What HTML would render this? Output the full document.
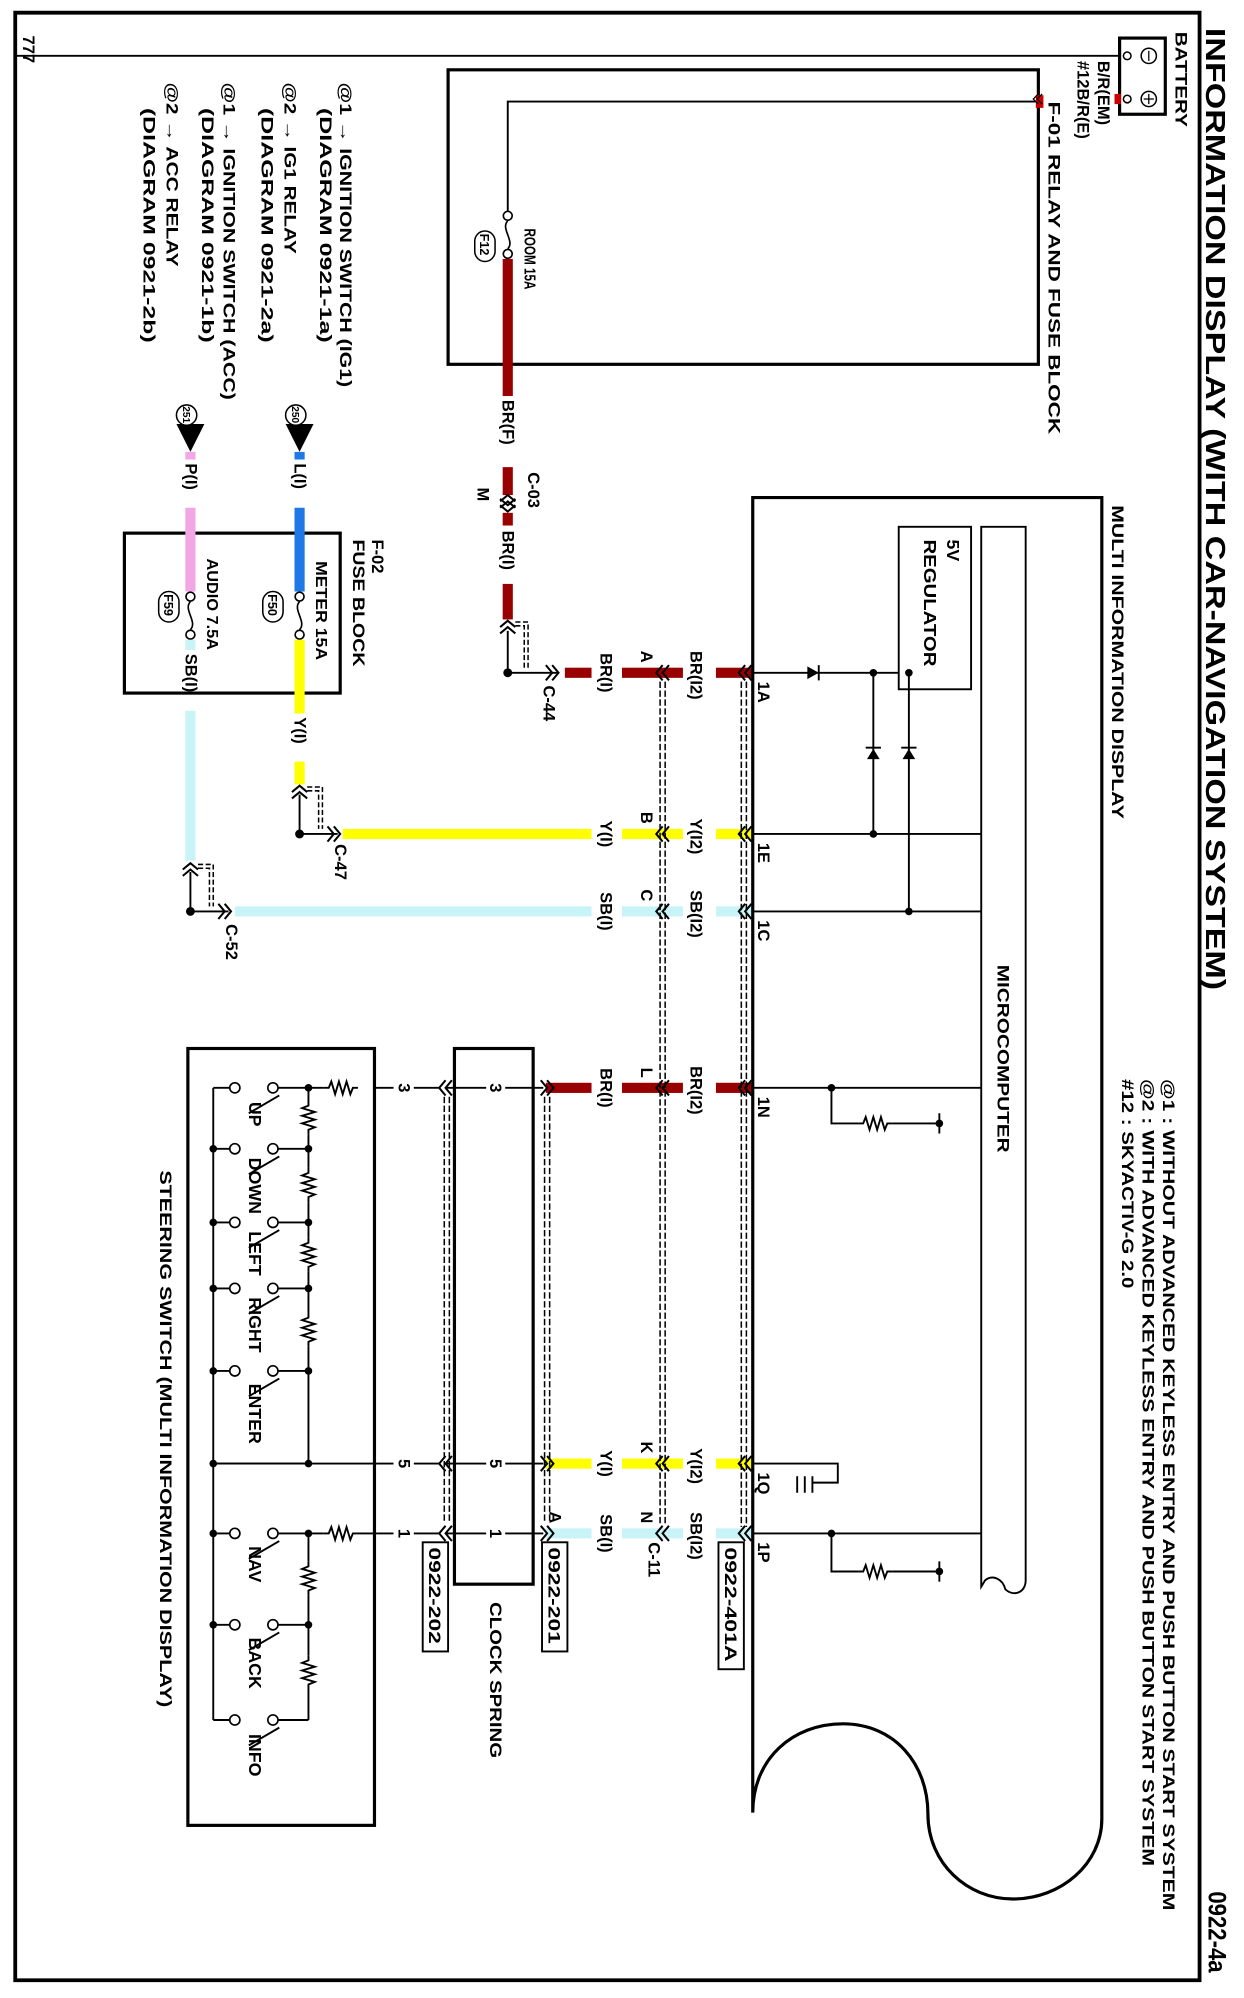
<!DOCTYPE html>
<html><head><meta charset="utf-8"><style>
html,body{margin:0;padding:0;background:#fff}
svg{display:block}
text{font-family:"Liberation Sans",Arial,sans-serif;font-weight:bold;fill:#000}
</style></head><body>
<svg width="1244" height="1998" viewBox="0 0 980 1574" preserveAspectRatio="none" xmlns="http://www.w3.org/2000/svg">
<defs>
<g id="cl"><path d="M5,-6 L0,0 L5,6 M10,-6 L5,0 L10,6" fill="none" stroke="#000" stroke-width="1.6"/></g>
<g id="cu"><path d="M-6,5 L0,0 L6,5 M-6,10 L0,5 L6,10" fill="none" stroke="#000" stroke-width="1.6"/></g>
<g id="res"><path d="M0,0 L4,0 L6,-5 L9,5 L12,-5 L15,5 L18,-5 L21,5 L23,0 L27,0" fill="none" stroke="#000" stroke-width="1.5"/></g>
<g id="resv"><path d="M0,0 L0,4 L-5,6 L5,9 L-5,12 L5,15 L-5,18 L5,21 L0,23 L0,27" fill="none" stroke="#000" stroke-width="1.5"/></g>
</defs>
<rect x="0" y="0" width="980" height="1574" fill="#fff"/>
<path d="M12,10 H945 V1560 H12 Z" fill="none" stroke="#000" stroke-width="3"/>
<text transform="translate(950,22) rotate(90)" font-size="22" textLength="758" lengthAdjust="spacingAndGlyphs">INFORMATION DISPLAY (WITH CAR-NAVIGATION SYSTEM)</text>
<text transform="translate(952,1490) rotate(90)" font-size="20" font-weight="normal" textLength="64" lengthAdjust="spacingAndGlyphs">0922-4a</text>
<text transform="translate(18,28) rotate(90)" font-size="13">777</text>

<line x1="12" y1="44" x2="886" y2="44" stroke="#000" stroke-width="1.5"/>
<rect x="882" y="30" width="36" height="60" fill="#fff" stroke="#000" stroke-width="2.5"/>
<circle cx="888" cy="44" r="3" fill="#fff" stroke="#000" stroke-width="1.2"/>
<circle cx="888" cy="78" r="3" fill="#fff" stroke="#000" stroke-width="1.2"/>
<circle cx="905" cy="44" r="6" fill="#fff" stroke="#000" stroke-width="1.2"/><line x1="905" y1="40" x2="905" y2="48" stroke="#000"/>
<circle cx="905" cy="78" r="6" fill="#fff" stroke="#000" stroke-width="1.2"/><line x1="905" y1="74" x2="905" y2="82" stroke="#000"/><line x1="901" y1="78" x2="909" y2="78" stroke="#000"/>
<text transform="translate(926,25) rotate(90)" font-size="13" textLength="75" lengthAdjust="spacingAndGlyphs">BATTERY</text>
<rect x="878" y="74" width="5" height="8" fill="#c00"/>
<text transform="translate(865,48) rotate(90)" font-size="13">B/R(EM)</text>
<text transform="translate(849,48) rotate(90)" font-size="13">#12B/R(E)</text>
<text transform="translate(826,80) rotate(90)" font-size="13" textLength="262" lengthAdjust="spacingAndGlyphs">F-01  RELAY AND FUSE BLOCK</text>

<rect x="353" y="55" width="465" height="232" fill="none" stroke="#000" stroke-width="2.5"/>
<rect x="816" y="75" width="6" height="10" fill="#c00"/>
<path d="M818,74 L814,78 L818,82 M821,74 L817,78 L821,82" stroke="#000" fill="none" stroke-width="1"/>
<path d="M816,80 H400 V166" fill="none" stroke="#000" stroke-width="1.5"/>
<circle cx="400" cy="170" r="3.5" fill="#fff" stroke="#000" stroke-width="1.3"/>
<path d="M400,174 C394,180 406,190 400,196" fill="none" stroke="#000" stroke-width="1.3"/>
<circle cx="400" cy="200" r="3.5" fill="#fff" stroke="#000" stroke-width="1.3"/>
<text transform="translate(413,180) rotate(90)" font-size="12" textLength="48" lengthAdjust="spacingAndGlyphs">ROOM 15A</text>
<rect x="374" y="182" width="16" height="24" rx="8" fill="#fff" stroke="#000" stroke-width="1.2"/>
<text transform="translate(378,184) rotate(90)" font-size="10" font-weight="normal">F12</text>
<rect x="396" y="204" width="8" height="108" fill="#990000"/>
<text transform="translate(396,315) rotate(90)" font-size="13">BR(F)</text>
<rect x="396" y="368" width="8" height="22" fill="#990000"/>
<use href="#cu" x="400" y="390"/>
<use href="#cu" x="400" y="393" transform="rotate(180,400,398)"/>
<text transform="translate(416,372) rotate(90)" font-size="13">C-03</text>
<text transform="translate(376,384) rotate(90)" font-size="13">M</text>
<rect x="396" y="404" width="8" height="10" fill="#990000"/>
<text transform="translate(396,418) rotate(90)" font-size="13">BR(I)</text>
<rect x="396" y="460" width="8" height="28" fill="#990000"/>
<use href="#cu" x="400" y="489"/>
<path d="M406,490 H416 V526 M406,493 H413 V526" fill="none" stroke="#000" stroke-width="1.2" stroke-dasharray="4,2"/>
<path d="M400,497 V530 H440" fill="none" stroke="#000" stroke-width="1.5"/>
<circle cx="400" cy="530" r="3.5" fill="#000"/>
<use href="#cl" x="-440" y="530" transform="scale(-1,1)"/>
<text transform="translate(428,540) rotate(90)" font-size="13">C-44</text>

<rect x="98" y="420" width="170" height="126" fill="none" stroke="#000" stroke-width="2.5"/>
<text transform="translate(293,425) rotate(90)" font-size="13">F-02</text>
<text transform="translate(278,425) rotate(90)" font-size="13" textLength="100" lengthAdjust="spacingAndGlyphs">FUSE BLOCK</text>
<text transform="translate(268,65) rotate(90)" font-size="13" textLength="240" lengthAdjust="spacingAndGlyphs">@1 → IGNITION SWITCH (IG1)</text>
<text transform="translate(252,85) rotate(90)" font-size="13" textLength="185" lengthAdjust="spacingAndGlyphs">(DIAGRAM  0921-1a)</text>
<text transform="translate(224,65) rotate(90)" font-size="13" textLength="135" lengthAdjust="spacingAndGlyphs">@2 → IG1 RELAY</text>
<text transform="translate(206,85) rotate(90)" font-size="13" textLength="185" lengthAdjust="spacingAndGlyphs">(DIAGRAM  0921-2a)</text>
<text transform="translate(176,65) rotate(90)" font-size="13" textLength="250" lengthAdjust="spacingAndGlyphs">@1 → IGNITION SWITCH (ACC)</text>
<text transform="translate(159,85) rotate(90)" font-size="13" textLength="185" lengthAdjust="spacingAndGlyphs">(DIAGRAM  0921-1b)</text>
<text transform="translate(131,65) rotate(90)" font-size="13" textLength="145" lengthAdjust="spacingAndGlyphs">@2 → ACC RELAY</text>
<text transform="translate(113,85) rotate(90)" font-size="13" textLength="185" lengthAdjust="spacingAndGlyphs">(DIAGRAM  0921-2b)</text>

<polygon points="225,334 247,334 236,356" fill="#000"/>
<circle cx="233" cy="327" r="8" fill="#fff" stroke="#000" stroke-width="1.2"/>
<text transform="translate(230,320) rotate(90)" font-size="8">250</text>
<polygon points="139,334 161,334 150,356" fill="#000"/>
<circle cx="147" cy="327" r="8" fill="#fff" stroke="#000" stroke-width="1.2"/>
<text transform="translate(144,320) rotate(90)" font-size="8">251</text>
<rect x="232" y="356" width="8" height="6" fill="#1e78e6"/>
<text transform="translate(232,365) rotate(90)" font-size="13">L(I)</text>
<rect x="232" y="400" width="8" height="66" fill="#1e78e6"/>
<circle cx="236" cy="470" r="3.5" fill="#fff" stroke="#000" stroke-width="1.3"/>
<path d="M236,474 C230,480 242,490 236,496" fill="none" stroke="#000" stroke-width="1.3"/>
<circle cx="236" cy="500" r="3.5" fill="#fff" stroke="#000" stroke-width="1.3"/>
<text transform="translate(249,442) rotate(90)" font-size="12" textLength="78" lengthAdjust="spacingAndGlyphs">METER 15A</text>
<rect x="207" y="466" width="16" height="24" rx="8" fill="#fff" stroke="#000" stroke-width="1.2"/>
<text transform="translate(211,468) rotate(90)" font-size="10" font-weight="normal">F50</text>
<rect x="232" y="504" width="8" height="58" fill="#ffff00"/>
<text transform="translate(232,565) rotate(90)" font-size="13">Y(I)</text>
<rect x="232" y="600" width="8" height="18" fill="#ffff00"/>
<use href="#cu" x="236" y="619"/>
<path d="M242,620 H254 V653 M242,623 H251 V653" fill="none" stroke="#000" stroke-width="1.2" stroke-dasharray="4,2"/>
<path d="M236,626 V657 H266" fill="none" stroke="#000" stroke-width="1.5"/>
<circle cx="236" cy="657" r="3.5" fill="#000"/>
<use href="#cl" x="-268" y="657" transform="scale(-1,1)"/>
<text transform="translate(264,665) rotate(90)" font-size="13">C-47</text>
<rect x="146" y="356" width="8" height="6" fill="#f2a6e6"/>
<text transform="translate(146,365) rotate(90)" font-size="13">P(I)</text>
<rect x="146" y="400" width="8" height="66" fill="#f2a6e6"/>
<circle cx="150" cy="470" r="3.5" fill="#fff" stroke="#000" stroke-width="1.3"/>
<path d="M150,474 C144,480 156,490 150,496" fill="none" stroke="#000" stroke-width="1.3"/>
<circle cx="150" cy="500" r="3.5" fill="#fff" stroke="#000" stroke-width="1.3"/>
<text transform="translate(163,440) rotate(90)" font-size="12" textLength="72" lengthAdjust="spacingAndGlyphs">AUDIO 7.5A</text>
<rect x="125" y="466" width="16" height="24" rx="8" fill="#fff" stroke="#000" stroke-width="1.2"/>
<text transform="translate(129,468) rotate(90)" font-size="10" font-weight="normal">F59</text>
<rect x="146" y="504" width="8" height="8" fill="#c8f4f8"/>
<text transform="translate(146,515) rotate(90)" font-size="13">SB(I)</text>
<rect x="146" y="560" width="8" height="118" fill="#c8f4f8"/>
<use href="#cu" x="150" y="680"/>
<path d="M156,681 H168 V714 M156,684 H165 V714" fill="none" stroke="#000" stroke-width="1.2" stroke-dasharray="4,2"/>
<path d="M150,687 V718 H180" fill="none" stroke="#000" stroke-width="1.5"/>
<circle cx="150" cy="718" r="3.5" fill="#000"/>
<use href="#cl" x="-182" y="718" transform="scale(-1,1)"/>
<text transform="translate(178,728) rotate(90)" font-size="13">C-52</text>

<g>
<rect x="445" y="526" width="21" height="8" fill="#990000"/><rect x="490" y="526" width="48" height="8" fill="#990000"/><rect x="564" y="526" width="28" height="8" fill="#990000"/>
<rect x="270" y="653" width="196" height="8" fill="#ffff00"/><rect x="490" y="653" width="48" height="8" fill="#ffff00"/><rect x="564" y="653" width="28" height="8" fill="#ffff00"/>
<rect x="185" y="714" width="281" height="8" fill="#c8f4f8"/><rect x="490" y="714" width="48" height="8" fill="#c8f4f8"/><rect x="564" y="714" width="28" height="8" fill="#c8f4f8"/>
<rect x="430" y="853" width="36" height="8" fill="#990000"/><rect x="490" y="853" width="48" height="8" fill="#990000"/><rect x="564" y="853" width="28" height="8" fill="#990000"/>
<rect x="430" y="1149" width="36" height="8" fill="#ffff00"/><rect x="490" y="1149" width="48" height="8" fill="#ffff00"/><rect x="564" y="1149" width="28" height="8" fill="#ffff00"/>
<rect x="430" y="1204" width="36" height="8" fill="#c8f4f8"/><rect x="490" y="1204" width="48" height="8" fill="#c8f4f8"/><rect x="564" y="1204" width="28" height="8" fill="#c8f4f8"/>
</g>
<use href="#cl" x="517" y="530"/><use href="#cl" x="582" y="530"/>
<use href="#cl" x="517" y="657"/><use href="#cl" x="582" y="657"/>
<use href="#cl" x="517" y="718"/><use href="#cl" x="582" y="718"/>
<use href="#cl" x="517" y="857"/><use href="#cl" x="582" y="857"/>
<use href="#cl" x="517" y="1153"/><use href="#cl" x="582" y="1153"/>
<use href="#cl" x="517" y="1208"/><use href="#cl" x="582" y="1208"/>
<path d="M520,537 V1200 M524,537 V1200 M584,537 V1203 M588,537 V1203" stroke="#000" stroke-width="1.2" stroke-dasharray="5,2" fill="none"/>
<g font-size="13">
<text transform="translate(473,530) rotate(90)" text-anchor="middle">BR(I)</text>
<text transform="translate(505,522) rotate(90)" text-anchor="end">A</text>
<text transform="translate(544,532) rotate(90)" text-anchor="middle">BR(I2)</text>
<text transform="translate(473,657) rotate(90)" text-anchor="middle">Y(I)</text>
<text transform="translate(505,649) rotate(90)" text-anchor="end">B</text>
<text transform="translate(544,659) rotate(90)" text-anchor="middle">Y(I2)</text>
<text transform="translate(473,718) rotate(90)" text-anchor="middle">SB(I)</text>
<text transform="translate(505,710) rotate(90)" text-anchor="end">C</text>
<text transform="translate(544,720) rotate(90)" text-anchor="middle">SB(I2)</text>
<text transform="translate(473,857) rotate(90)" text-anchor="middle">BR(I)</text>
<text transform="translate(505,849) rotate(90)" text-anchor="end">L</text>
<text transform="translate(544,859) rotate(90)" text-anchor="middle">BR(I2)</text>
<text transform="translate(473,1153) rotate(90)" text-anchor="middle">Y(I)</text>
<text transform="translate(505,1145) rotate(90)" text-anchor="end">K</text>
<text transform="translate(544,1155) rotate(90)" text-anchor="middle">Y(I2)</text>
<text transform="translate(473,1208) rotate(90)" text-anchor="middle">SB(I)</text>
<text transform="translate(505,1200) rotate(90)" text-anchor="end">N</text>
<text transform="translate(544,1210) rotate(90)" text-anchor="middle">SB(I2)</text>
<text transform="translate(433,1200) rotate(90)" text-anchor="end">A</text>
<text transform="translate(511,1215) rotate(90)">C-11</text>
</g>
<rect x="566" y="1215" width="20" height="100" fill="#fff" stroke="#000" stroke-width="1.5"/>
<text transform="translate(571,1219) rotate(90)" font-size="13" textLength="90" lengthAdjust="spacingAndGlyphs">0922-401A</text>
<rect x="427" y="1215" width="20" height="86" fill="#fff" stroke="#000" stroke-width="1.5"/>
<text transform="translate(432,1219) rotate(90)" font-size="13" textLength="76" lengthAdjust="spacingAndGlyphs">0922-201</text>
<rect x="333" y="1215" width="20" height="86" fill="#fff" stroke="#000" stroke-width="1.5"/>
<text transform="translate(338,1219) rotate(90)" font-size="13" textLength="76" lengthAdjust="spacingAndGlyphs">0922-202</text>

<path d="M593,1428 V392 H868 V1433 C868,1468 836,1496 798,1496 C762,1496 731,1468 731,1429 C731,1390 705,1358 664,1358 C625,1358 593,1385 593,1428" fill="none" stroke="#000" stroke-width="2.5"/>
<text transform="translate(876,398) rotate(90)" font-size="13" textLength="247" lengthAdjust="spacingAndGlyphs">MULTI INFORMATION DISPLAY</text>
<text transform="translate(916,850) rotate(90)" font-size="13" textLength="655" lengthAdjust="spacingAndGlyphs">@1 : WITHOUT ADVANCED KEYLESS ENTRY AND PUSH BUTTON START SYSTEM</text>
<text transform="translate(900,850) rotate(90)" font-size="13" textLength="620" lengthAdjust="spacingAndGlyphs">@2 : WITH ADVANCED KEYLESS ENTRY AND PUSH BUTTON START SYSTEM</text>
<text transform="translate(884,850) rotate(90)" font-size="13" textLength="165" lengthAdjust="spacingAndGlyphs">#12 : SKYACTIV-G 2.0</text>
<path d="M773,415 H808 V1245 C808,1255 798,1258 792,1252 C790,1244 782,1240 776,1245 L773,1250 Z" fill="none" stroke="#000" stroke-width="1.5"/>
<text transform="translate(786,760) rotate(90)" font-size="13" textLength="148" lengthAdjust="spacingAndGlyphs">MICROCOMPUTER</text>
<rect x="708" y="415" width="57" height="128" fill="none" stroke="#000" stroke-width="1.5"/>
<text transform="translate(746,425) rotate(90)" font-size="14">5V</text>
<text transform="translate(728,425) rotate(90)" font-size="14" textLength="100" lengthAdjust="spacingAndGlyphs">REGULATOR</text>
<g stroke="#000" stroke-width="1.5" fill="none">
<path d="M593,530 H708"/>
<path d="M593,657 H773"/>
<path d="M593,718 H773"/>
<path d="M593,857 H773 M655,857 V885 H676 M703,885 H740 M740,877 V893"/>
<path d="M593,1153 H660 V1168 H640 M640,1163 V1176 M634,1163 V1176 M628,1163 V1176"/>
<path d="M593,1208 H773 M655,1208 V1238 H676 M703,1238 H740 M740,1230 V1246"/>
<path d="M688,530 V657 M716,530 V718"/>
</g>
<use href="#res" x="676" y="885"/><use href="#res" x="676" y="1238"/>
<circle cx="740" cy="885" r="3" fill="#000"/><circle cx="740" cy="1238" r="3" fill="#000"/>
<circle cx="655" cy="857" r="3" fill="#000"/><circle cx="655" cy="1208" r="3" fill="#000"/>
<circle cx="688" cy="530" r="3" fill="#000"/><circle cx="716" cy="530" r="3" fill="#000"/>
<circle cx="688" cy="657" r="3" fill="#000"/><circle cx="716" cy="718" r="3" fill="#000"/>
<polygon points="636,525 636,535 645,530" fill="#000"/><line x1="645" y1="524" x2="645" y2="536" stroke="#000" stroke-width="1.5"/>
<polygon points="683,598 693,598 688,590" fill="#000"/><line x1="682" y1="589" x2="694" y2="589" stroke="#000" stroke-width="1.5"/>
<polygon points="711,598 721,598 716,590" fill="#000"/><line x1="710" y1="589" x2="722" y2="589" stroke="#000" stroke-width="1.5"/>
<g font-size="13">
<text transform="translate(597,537) rotate(90)">1A</text>
<text transform="translate(597,664) rotate(90)">1E</text>
<text transform="translate(597,725) rotate(90)">1C</text>
<text transform="translate(597,864) rotate(90)">1N</text>
<text transform="translate(597,1160) rotate(90)">1Q</text>
<text transform="translate(597,1215) rotate(90)">1P</text>
</g>

<rect x="358" y="826" width="62" height="422" fill="none" stroke="#000" stroke-width="2.5"/>
<text transform="translate(386,1262) rotate(90)" font-size="13" textLength="123" lengthAdjust="spacingAndGlyphs">CLOCK SPRING</text>
<g stroke="#000" stroke-width="1.5" fill="none">
<path d="M295,857 H310 M326,857 H346 M352,857 H383 M398,857 H428"/>
<path d="M168,1153 H310 M326,1153 H346 M352,1153 H383 M398,1153 H428"/>
<path d="M282,1208 H310 M326,1208 H346 M352,1208 H383 M398,1208 H428"/>
</g>
<g font-size="13">
<text transform="translate(314,857) rotate(90)" text-anchor="middle">3</text>
<text transform="translate(386,857) rotate(90)" text-anchor="middle">3</text>
<text transform="translate(314,1153) rotate(90)" text-anchor="middle">5</text>
<text transform="translate(386,1153) rotate(90)" text-anchor="middle">5</text>
<text transform="translate(314,1208) rotate(90)" text-anchor="middle">1</text>
<text transform="translate(386,1208) rotate(90)" text-anchor="middle">1</text>
</g>
<use href="#cl" x="346" y="857"/><use href="#cl" x="346" y="1153"/><use href="#cl" x="346" y="1208"/>
<use href="#cl" x="-436" y="857" transform="scale(-1,1)"/><use href="#cl" x="-436" y="1153" transform="scale(-1,1)"/><use href="#cl" x="-436" y="1208" transform="scale(-1,1)"/>
<path d="M350,864 V1200 M354,864 V1200 M429,864 V1200 M433,864 V1200" stroke="#000" stroke-width="1.2" stroke-dasharray="5,2" fill="none"/>

<rect x="148" y="826" width="147" height="612" fill="none" stroke="#000" stroke-width="2.5"/>
<text transform="translate(126,922) rotate(90)" font-size="13" textLength="423" lengthAdjust="spacingAndGlyphs">STEERING SWITCH (MULTI INFORMATION DISPLAY)</text>
<use href="#res" x="255" y="857"/><use href="#res" x="255" y="1208"/>
<g stroke="#000" stroke-width="1.5" fill="none">
<path d="M168,857 V1355"/>
<path d="M243,857 H255 M243,1208 H255"/>
<path d="M243,1080 V1153 H168"/>
<path d="M168,857 H181 M168,905 H181 M168,963 H181 M168,1015 H181 M168,1080 H181 M168,1208 H181 M168,1280 H181 M168,1355 H181"/>
<path d="M219,857 H243 M219,905 H243 M219,963 H243 M219,1015 H243 M219,1080 H243 M219,1208 H243 M219,1280 H243 M219,1355 H243"/>
<path d="M196,877 L220,863 M196,925 L220,911 M196,983 L220,969 M196,1035 L220,1021 M196,1100 L220,1086 M196,1228 L220,1214 M196,1300 L220,1286 M196,1375 L220,1361"/>
</g>
<use href="#resv" x="243" y="867"/><use href="#resv" x="243" y="920"/><use href="#resv" x="243" y="975"/><use href="#resv" x="243" y="1034"/>
<use href="#resv" x="243" y="1230"/><use href="#resv" x="243" y="1304"/>
<g stroke="#000" stroke-width="1.5"><path d="M243,857 V867 M243,894 V905 M243,905 V920 M243,947 V963 M243,963 V975 M243,1002 V1015 M243,1015 V1034 M243,1061 V1080 M243,1208 V1230 M243,1257 V1280 M243,1280 V1304 M243,1331 V1355"/></g>
<g fill="#fff" stroke="#000" stroke-width="1.3">
<circle cx="185" cy="857" r="4"/><circle cx="215" cy="857" r="4"/>
<circle cx="185" cy="905" r="4"/><circle cx="215" cy="905" r="4"/>
<circle cx="185" cy="963" r="4"/><circle cx="215" cy="963" r="4"/>
<circle cx="185" cy="1015" r="4"/><circle cx="215" cy="1015" r="4"/>
<circle cx="185" cy="1080" r="4"/><circle cx="215" cy="1080" r="4"/>
<circle cx="185" cy="1208" r="4"/><circle cx="215" cy="1208" r="4"/>
<circle cx="185" cy="1280" r="4"/><circle cx="215" cy="1280" r="4"/>
<circle cx="185" cy="1355" r="4"/><circle cx="215" cy="1355" r="4"/>
</g>
<g fill="#000">
<circle cx="243" cy="857" r="3"/><circle cx="243" cy="905" r="3"/><circle cx="243" cy="963" r="3"/><circle cx="243" cy="1015" r="3"/><circle cx="243" cy="1080" r="3"/><circle cx="243" cy="1153" r="3"/><circle cx="243" cy="1208" r="3"/><circle cx="243" cy="1280" r="3"/>
<circle cx="168" cy="905" r="3"/><circle cx="168" cy="963" r="3"/><circle cx="168" cy="1015" r="3"/><circle cx="168" cy="1080" r="3"/><circle cx="168" cy="1153" r="3"/><circle cx="168" cy="1208" r="3"/><circle cx="168" cy="1280" r="3"/>
</g>
<g font-size="14">
<text transform="translate(196,868) rotate(90)">UP</text>
<text transform="translate(196,912) rotate(90)">DOWN</text>
<text transform="translate(196,970) rotate(90)">LEFT</text>
<text transform="translate(196,1022) rotate(90)">RIGHT</text>
<text transform="translate(196,1090) rotate(90)">ENTER</text>
<text transform="translate(196,1218) rotate(90)">NAV</text>
<text transform="translate(196,1290) rotate(90)">BACK</text>
<text transform="translate(196,1366) rotate(90)">INFO</text>
</g>
</svg>
</body></html>
